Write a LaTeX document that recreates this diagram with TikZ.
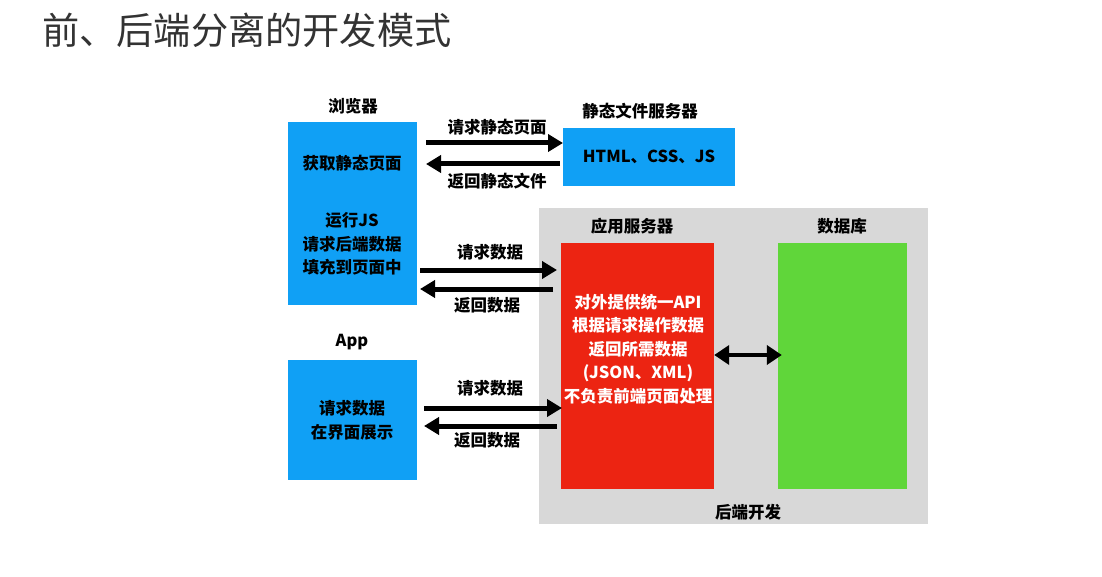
\documentclass[tikz,border=0pt]{standalone}
\usepackage{fontspec}
\newfontfamily\cjk{Noto Sans CJK SC}
\usetikzlibrary{arrows.meta}
\definecolor{cblue}{RGB}{16,160,245}
\definecolor{cred}{RGB}{236,36,18}
\definecolor{cgreen}{RGB}{96,214,58}
\definecolor{cgray}{RGB}{216,216,216}
\definecolor{ctitle}{RGB}{51,51,51}
\tikzset{
  box/.style={fill=#1, draw=none, inner sep=0pt},
  lbl/.style={font=\cjk\bfseries\fontsize{16.5}{23.5}\selectfont, text=black, inner sep=0pt, align=center},
  wlbl/.style={lbl, text=white},
  arr/.style={line width=5pt, -{Triangle[length=15pt,width=17pt]}},
  darr/.style={line width=4pt, {Triangle[length=15pt,width=19pt]}-{Triangle[length=15pt,width=19pt]}},
}
\begin{document}
\begin{tikzpicture}[x=1pt,y=-1pt]
\useasboundingbox (0,0) rectangle (1102,577);
\node[font=\cjk\fontsize{37.2}{40}\selectfont, text=ctitle, anchor=west, inner sep=0pt] (title) at (42,30) {前、后端分离的开发模式};

% boxes
\node[box=cblue, minimum width=129, minimum height=183] (browser) at (352.5,213.5) {};
\node[box=cblue, minimum width=172, minimum height=58] (static) at (649,157) {};
\node[box=cgray, minimum width=389, minimum height=316] (backend) at (733.5,366) {};
\node[box=cred, minimum width=153, minimum height=246] (appsrv) at (637.5,366) {};
\node[box=cgreen, minimum width=129, minimum height=246] (db) at (842.5,366) {};
\node[box=cblue, minimum width=129, minimum height=120] (app) at (352.5,420) {};

% labels
\node[lbl] (lbrowser) at (353,106) {浏览器};
\node[lbl] (lstatic) at (640,111) {静态文件服务器};
\node[lbl] (lappsrv) at (632,226) {应用服务器};
\node[lbl] (ldb) at (842,226) {数据库};
\node[lbl] (lbackend) at (748,512) {后端开发};
\node[lbl] (lapp) at (352,342) {App};

\node[lbl] (b1) at (352,163) {获取静态页面};
\node[lbl] (b2) at (352,244) {运行JS\\请求后端数据\\填充到页面中};
\node[lbl] (st) at (649,157) {HTML、CSS、JS};
\node[wlbl] (a1) at (638,349) {对外提供统一API\\根据请求操作数据\\返回所需数据\\(JSON、XML)\\不负责前端页面处理};
\node[lbl] (p1) at (352,420) {请求数据\\在界面展示};

% arrows
\coordinate (s1) at (426,143);
\coordinate (e1) at (563,143);
\draw[arr] (s1) -- (e1);
\node[lbl] (t1) at (497,127) {请求静态页面};
\coordinate (s2) at (560,164);
\coordinate (e2) at (426,164);
\draw[arr] (s2) -- (e2);
\node[lbl] (t2) at (497,181) {返回静态文件};

\coordinate (s3) at (420,270);
\coordinate (e3) at (557,270);
\draw[arr] (s3) -- (e3);
\node[lbl] (t3) at (490,252) {请求数据};
\coordinate (s4) at (553,289);
\coordinate (e4) at (420,289);
\draw[arr] (s4) -- (e4);
\node[lbl] (t4) at (487,305) {返回数据};

\coordinate (s5) at (424,408);
\coordinate (e5) at (562,408);
\draw[arr] (s5) -- (e5);
\node[lbl] (t5) at (490,388) {请求数据};
\coordinate (s6) at (557,426);
\coordinate (e6) at (424,426);
\draw[arr] (s6) -- (e6);
\node[lbl] (t6) at (487,440) {返回数据};

\draw[darr] (appsrv.east |- 0,355) -- ([xshift=4pt]db.west |- 0,355);
\end{tikzpicture}
\end{document}
